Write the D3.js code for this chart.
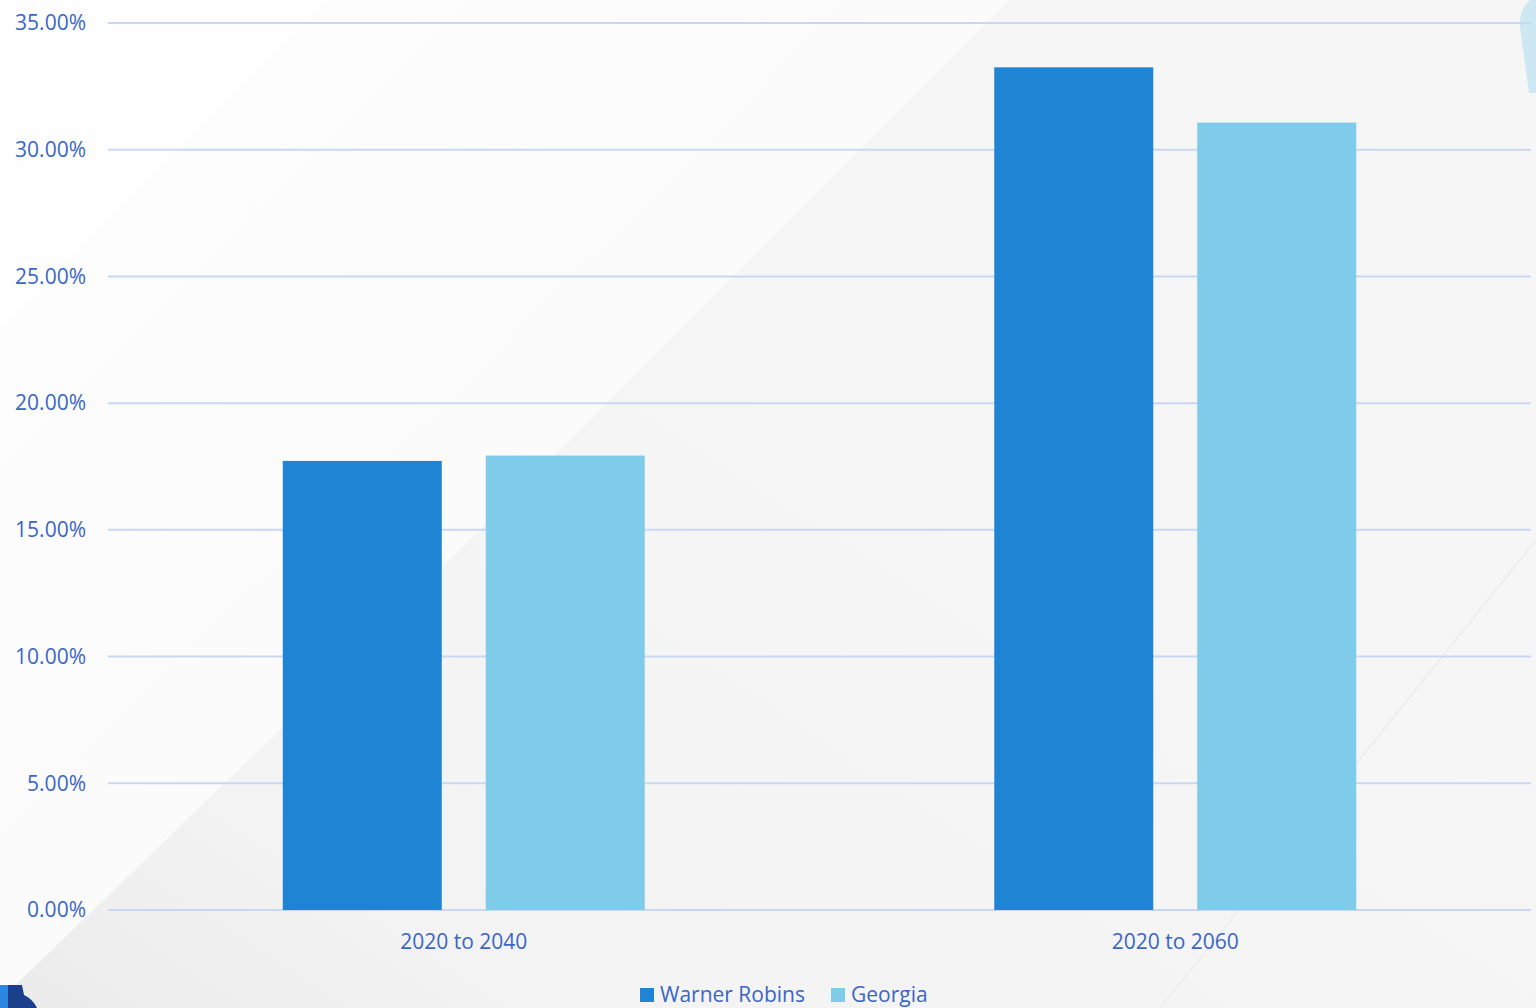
<!DOCTYPE html>
<html><head><meta charset="utf-8">
<script src="https://cdn.jsdelivr.net/npm/d3@7"></script>
<style>html,body{margin:0;padding:0;background:#f5f5f5;overflow:hidden}svg{display:block}</style>
</head><body>
<svg id="chart" width="1536" height="1008"></svg>
<script>
const categories = ["2020 to 2040", "2020 to 2060"];
const seriesNames = ["Warner Robins", "Georgia"];
const warnerRobins = [17.72, 33.25];
const georgia = [17.93, 31.07];
const yTicks = [0, 5, 10, 15, 20, 25, 30, 35];
const seriesColors = ["#1f84d3", "#7ecbea"];

const W = 1536, H = 1008;
const svg = d3.select("#chart");
const font = "'Open Sans', 'Noto Sans', sans-serif";
const textColor = "#3a66c4";

// background
const defs = svg.append("defs");
const g1 = defs.append("linearGradient").attr("id","bgA").attr("x1","0").attr("y1","0").attr("x2","1").attr("y2","1");
g1.append("stop").attr("offset","0").attr("stop-color","#fdfdfd");
g1.append("stop").attr("offset","1").attr("stop-color","#f9f9f9");
const g2 = defs.append("linearGradient").attr("id","bgB").attr("x1","0").attr("y1","1").attr("x2","0.6").attr("y2","0.4");
g2.append("stop").attr("offset","0").attr("stop-color","#ebebeb");
g2.append("stop").attr("offset","0.3").attr("stop-color","#f3f3f3");
g2.append("stop").attr("offset","1").attr("stop-color","#f6f6f6");
svg.append("rect").attr("width",W).attr("height",H).attr("fill","#f5f5f5");
svg.append("path").attr("d","M0,0 L1010,0 L280,730 L0,1000 Z").attr("fill","url(#bgA)");
svg.append("path").attr("d","M0,1008 L0,1000 L280,730 L1010,0 L1536,0 L1536,1008 Z").attr("fill","url(#bgB)");
svg.append("path").attr("d","M0,330 L330,0 L0,0 Z").attr("fill","#fefefe").attr("opacity",0.8);
svg.append("line").attr("x1",1160).attr("y1",1008).attr("x2",1536).attr("y2",540).attr("stroke","#ececec").attr("stroke-width",1.5);
// decorative corners
svg.append("path").attr("d","M1536,0 L1530,0 C1521,8 1518,20 1521,35 L1529,93 L1536,93 Z").attr("fill","#cde8f3");
svg.append("path").attr("d","M0,985 L22,985 L24,995 C30,998 35,1003 37,1008 L0,1008 Z").attr("fill","#1b3f8a");
svg.append("rect").attr("x",0).attr("y",985).attr("width",8).attr("height",23).attr("fill","#2b86e0");

const margin = {left:108, right:5, top:23, bottom:98};
const y = d3.scaleLinear().domain([0,35]).range([910, 23]);
const x0 = d3.scaleBand().domain(categories).range([margin.left, 1531]).paddingInner(0).paddingOuter(0);
const x1 = d3.scaleBand().domain(seriesNames).range([0, x0.bandwidth()]).paddingInner(0.2167).paddingOuter(0.861);

// gridlines
svg.append("g").selectAll("line").data(yTicks).join("line")
  .attr("x1", margin.left).attr("x2", 1531)
  .attr("y1", d=>y(d)).attr("y2", d=>y(d))
  .attr("stroke","#c9d8f2").attr("stroke-width",2);

// y axis labels
const yAxis = d3.axisLeft(y).tickValues(yTicks).tickSize(0).tickPadding(0).tickFormat(d=>d.toFixed(2)+"%");
const ya = svg.append("g").attr("transform","translate(86,0)").call(yAxis);
ya.select(".domain").remove();
ya.selectAll("text").attr("font-family",font).attr("font-size",21).attr("fill",textColor).attr("dy","0.32em");

// bars
const data = categories.map((c,i)=>({cat:c, values:[warnerRobins[i], georgia[i]]}));
const groups = svg.append("g").selectAll("g").data(data).join("g")
  .attr("transform", d=>`translate(${x0(d.cat)},0)`);
groups.selectAll("rect").data(d=>d.values.map((v,j)=>({name:seriesNames[j], v, j})))
  .join("rect")
  .attr("x", d=>x1(d.name)).attr("width", x1.bandwidth())
  .attr("y", d=>y(d.v)).attr("height", d=>y(0)-y(d.v))
  .attr("fill", d=>seriesColors[d.j]);

// x axis labels
const xAxis = d3.axisBottom(x0).tickSize(0).tickPadding(0);
const xa = svg.append("g").attr("transform","translate(0,934)").call(xAxis);
xa.select(".domain").remove();
xa.selectAll("text").attr("font-family",font).attr("font-size",21).attr("fill",textColor).attr("dy","0.71em");

// legend
const legend = svg.append("g");
const legendX = [640, 831];
seriesNames.forEach((n,i)=>{
  legend.append("rect").attr("x",legendX[i]).attr("y",988).attr("width",14).attr("height",14).attr("fill",seriesColors[i]);
  legend.append("text").attr("x",legendX[i]+20).attr("y",995).attr("dy","0.35em")
    .attr("font-family",font).attr("font-size",21).attr("fill",textColor).text(n);
});
</script>
</body></html>
